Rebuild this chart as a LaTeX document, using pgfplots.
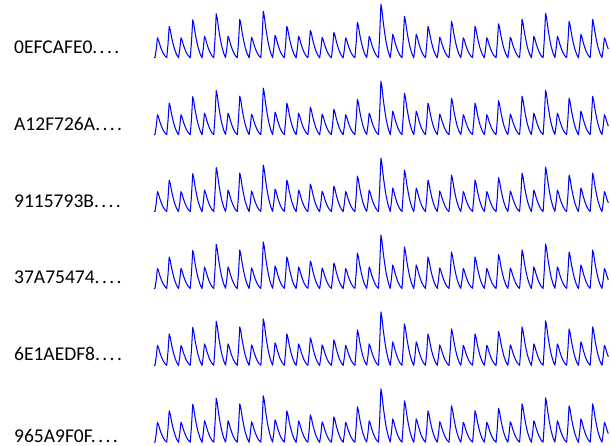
\documentclass[border=0pt]{standalone}
\usepackage{pgfplots}
\pgfplotsset{compat=1.18}
\usepackage{pgfplotstable}
\usepackage{fontspec}
\setmainfont{Carlito}
\pgfplotstableread[row sep=\\]{
t v\\
0 0.7\\
1 0.6\\ 2.3 9.2\\ 3.5 20.5\\ 4.5 18.5\\ 6 13.3\\ 7.5 9.2\\ 9 5.7\\ 11 2.5\\
13 0.6\\ 14.3 14.4\\ 15.5 32\\ 16.5 28.8\\ 18 20.8\\ 19.5 14.4\\ 21 9.0\\ 23 3.8\\
25 0.5\\ 26.3 9.2\\ 27.5 20.5\\ 28.5 18.5\\ 30 13.3\\ 31.5 9.2\\ 33 5.7\\ 35 2.5\\
37 0.6\\ 38.3 17.3\\ 39.5 38.5\\ 40.5 34.7\\ 42 25.0\\ 43.5 17.3\\ 45 10.8\\ 47 4.6\\
49 0.4\\ 50.3 9.9\\ 51.5 22\\ 52.5 19.8\\ 54 14.3\\ 55.5 9.9\\ 57 6.2\\ 59 2.6\\
61 0.6\\ 62.3 20.0\\ 63.5 44.5\\ 64.5 40.1\\ 66 28.9\\ 67.5 20.0\\ 69 12.5\\ 71 5.3\\
73 0.7\\ 74.3 9.9\\ 75.5 22\\ 76.5 19.8\\ 78 14.3\\ 79.5 9.9\\ 81 6.2\\ 83 2.6\\
85 0.6\\ 86.3 17.6\\ 87.5 39\\ 88.5 35.1\\ 90 25.4\\ 91.5 17.6\\ 93 10.9\\ 95 4.7\\
97 0.5\\ 98.3 9.5\\ 99.5 21\\ 100.5 18.9\\ 102 13.7\\ 103.5 9.5\\ 105 5.9\\ 107 2.5\\
109 0.6\\ 110.3 21.2\\ 111.5 47\\ 112.5 42.3\\ 114 30.6\\ 115.5 21.2\\ 117 13.2\\ 119 5.6\\
121 0.7\\ 122.3 10.4\\ 123.5 23\\ 124.5 20.7\\ 126 15.0\\ 127.5 10.4\\ 129 6.4\\ 131 2.8\\
133 0.6\\ 134.3 14.4\\ 135.5 32\\ 136.5 28.8\\ 138 20.8\\ 139.5 14.4\\ 141 9.0\\ 143 3.8\\
145 0.5\\ 146.3 9.9\\ 147.5 22\\ 148.5 19.8\\ 150 14.3\\ 151.5 9.9\\ 153 6.2\\ 155 2.6\\
157 0.6\\ 158.3 12.6\\ 159.5 28\\ 160.5 25.2\\ 162 18.2\\ 163.5 12.6\\ 165 7.8\\ 167 3.4\\
169 0.4\\ 170.3 9.5\\ 171.5 21\\ 172.5 18.9\\ 174 13.7\\ 175.5 9.5\\ 177 5.9\\ 179 2.5\\
181 0.6\\ 182.3 11.7\\ 183.5 26\\ 184.5 23.4\\ 186 16.9\\ 187.5 11.7\\ 189 7.3\\ 191 3.1\\
193 0.5\\ 194.3 9.2\\ 195.5 20.5\\ 196.5 18.5\\ 198 13.3\\ 199.5 9.2\\ 201 5.7\\ 203 2.5\\
205 0.6\\ 206.3 16.2\\ 207.5 36\\ 208.5 32.4\\ 210 23.4\\ 211.5 16.2\\ 213 10.1\\ 215 4.3\\
217 0.7\\ 218.3 9.9\\ 219.5 22\\ 220.5 19.8\\ 222 14.3\\ 223.5 9.9\\ 225 6.2\\ 227 2.6\\
229 0.6\\ 230.3 24.3\\ 231.5 54\\ 232.5 48.6\\ 234 35.1\\ 235.5 24.3\\ 237 15.1\\ 239 6.5\\
241 0.6\\ 242.3 10.8\\ 243.5 24\\ 244.5 21.6\\ 246 15.6\\ 247.5 10.8\\ 249 6.7\\ 251 2.9\\
253 0.6\\ 254.3 18.9\\ 255.5 42\\ 256.5 37.8\\ 258 27.3\\ 259.5 18.9\\ 261 11.8\\ 263 5.0\\
265 0.5\\ 266.3 10.8\\ 267.5 24\\ 268.5 21.6\\ 270 15.6\\ 271.5 10.8\\ 273 6.7\\ 275 2.9\\
277 0.6\\ 278.3 14.4\\ 279.5 32\\ 280.5 28.8\\ 282 20.8\\ 283.5 14.4\\ 285 9.0\\ 287 3.8\\
289 0.6\\ 290.3 9.5\\ 291.5 21\\ 292.5 18.9\\ 294 13.7\\ 295.5 9.5\\ 297 5.9\\ 299 2.5\\
301 0.5\\ 302.3 16.7\\ 303.5 37\\ 304.5 33.3\\ 306 24.1\\ 307.5 16.7\\ 309 10.4\\ 311 4.4\\
313 0.6\\ 314.3 9.2\\ 315.5 20.5\\ 316.5 18.5\\ 318 13.3\\ 319.5 9.2\\ 321 5.7\\ 323 2.5\\
325 0.7\\ 326.3 14.4\\ 327.5 32\\ 328.5 28.8\\ 330 20.8\\ 331.5 14.4\\ 333 9.0\\ 335 3.8\\
337 0.6\\ 338.3 9.2\\ 339.5 20.5\\ 340.5 18.5\\ 342 13.3\\ 343.5 9.2\\ 345 5.7\\ 347 2.5\\
349 0.5\\ 350.3 15.5\\ 351.5 34.5\\ 352.5 31.1\\ 354 22.4\\ 355.5 15.5\\ 357 9.7\\ 359 4.1\\
361 0.6\\ 362.3 9.5\\ 363.5 21\\ 364.5 18.9\\ 366 13.7\\ 367.5 9.5\\ 369 5.9\\ 371 2.5\\
373 0.6\\ 374.3 17.6\\ 375.5 39\\ 376.5 35.1\\ 378 25.4\\ 379.5 17.6\\ 381 10.9\\ 383 4.7\\
385 0.5\\ 386.3 9.9\\ 387.5 22\\ 388.5 19.8\\ 390 14.3\\ 391.5 9.9\\ 393 6.2\\ 395 2.6\\
397 0.6\\ 398.3 20.3\\ 399.5 45\\ 400.5 40.5\\ 402 29.3\\ 403.5 20.3\\ 405 12.6\\ 407 5.4\\
409 0.7\\ 410.3 9.9\\ 411.5 22\\ 412.5 19.8\\ 414 14.3\\ 415.5 9.9\\ 417 6.2\\ 419 2.6\\
421 0.6\\ 422.3 16.7\\ 423.5 37\\ 424.5 33.3\\ 426 24.1\\ 427.5 16.7\\ 429 10.4\\ 431 4.4\\
433 0.5\\ 434.3 10.8\\ 435.5 24\\ 436.5 21.6\\ 438 15.6\\ 439.5 10.8\\ 441 6.7\\ 443 2.9\\
445 0.6\\ 446.3 17.6\\ 447.5 39\\ 448.5 35.1\\ 450 25.4\\ 451.5 17.6\\ 453 10.9\\ 455 4.7\\
457 0.6\\ 458.3 9.2\\ 459.5 20.5\\ 460.5 18.5\\ 462 13.3\\ 463.5 9.2\\
}\sig

\newcommand{\sparkrow}[3]{%
  \begin{axis}[at={(154bp,#1bp)}, anchor=south west, scale only axis,
    width=454.3bp, height=54bp, xmin=0, xmax=463.5, ymin=0, ymax=54,
    hide axis, clip=false]
    \addplot[color={rgb,255:red,0;green,0;blue,255}, line width=1.05pt, line join=round, mark=none] table[x=t, y=v] {\sig};
  \end{axis}
  \node[anchor=west, inner sep=0pt, font=\fontsize{19.5bp}{22bp}\selectfont] at (14bp,#2bp) {#3};
}

\begin{document}
\begin{tikzpicture}
\useasboundingbox (0,0) rectangle (611bp,446bp);
\sparkrow{387.7}{399}{0EFCAFE0.\kern2.4bp.\kern2.4bp.\kern2.4bp.}
\sparkrow{310.8}{322}{A12F726A.\kern2.4bp.\kern2.4bp.\kern2.4bp.}
\sparkrow{233.9}{245}{9115793B.\kern2.4bp.\kern2.4bp.\kern2.4bp.}
\sparkrow{157.0}{169}{37A75474.\kern2.4bp.\kern2.4bp.\kern2.4bp.}
\sparkrow{80.1}{92}{6E1AEDF8.\kern2.4bp.\kern2.4bp.\kern2.4bp.}
\sparkrow{3.2}{10.5}{965A9F0F.\kern2.4bp.\kern2.4bp.\kern2.4bp.}
\end{tikzpicture}
\end{document}
